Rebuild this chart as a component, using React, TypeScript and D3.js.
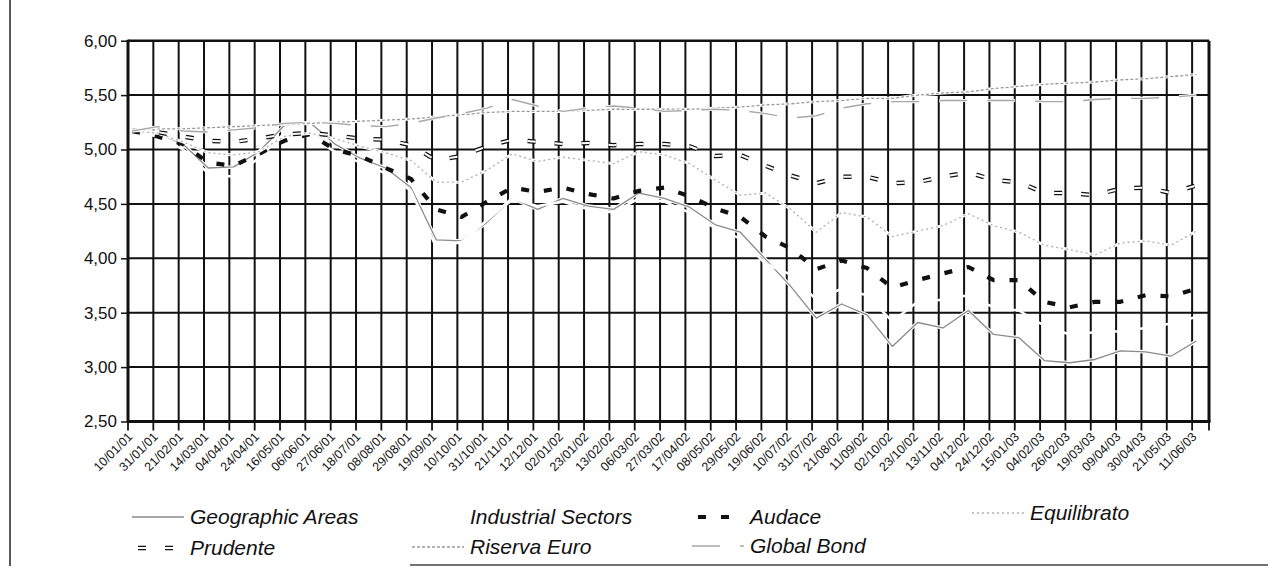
import React, { useEffect, useRef } from 'react';
import * as d3 from 'd3';

// dates printed under the x axis, one every 3 weekly values
const tickLabels = [
  '10/01/01', '31/01/01', '21/02/01', '14/03/01', '04/04/01', '24/04/01', '16/05/01', '06/06/01',
  '27/06/01', '18/07/01', '08/08/01', '29/08/01', '19/09/01', '10/10/01', '31/10/01', '21/11/01',
  '12/12/01', '02/01/02', '23/01/02', '13/02/02', '06/03/02', '27/03/02', '17/04/02', '08/05/02',
  '29/05/02', '19/06/02', '10/07/02', '31/07/02', '21/08/02', '11/09/02', '02/10/02', '23/10/02',
  '13/11/02', '04/12/02', '24/12/02', '15/01/03', '04/02/03', '26/02/03', '19/03/03', '09/04/03',
  '30/04/03', '21/05/03', '11/06/03'
];

// values read at each labelled date
const geographicAreas = [
  5.17, 5.15, 5.05, 4.83, 4.84, 4.98, 5.22, 5.25, 5.05, 4.92, 4.83, 4.65, 4.17, 4.16, 4.33,
  4.55, 4.45, 4.55, 4.48, 4.45, 4.60, 4.55, 4.47, 4.31, 4.24, 3.99, 3.74, 3.45, 3.58, 3.48,
  3.19, 3.41, 3.36, 3.52, 3.30, 3.27, 3.06, 3.04, 3.07, 3.15, 3.14, 3.10, 3.24
];
const industrialSectors = [
  5.17, 5.12, 5.00, 4.78, 4.75, 4.92, 5.15, 5.12, 4.98, 4.88, 4.78, 4.62, 4.10, 4.15, 4.35,
  4.55, 4.48, 4.52, 4.45, 4.42, 4.55, 4.52, 4.42, 4.28, 4.18, 3.95, 3.85, 3.62, 3.72, 3.66,
  3.42, 3.60, 3.62, 3.66, 3.55, 3.52, 3.38, 3.30, 3.32, 3.33, 3.36, 3.40, 3.46
];
const audace = [
  5.17, 5.12, 5.05, 4.88, 4.85, 4.96, 5.08, 5.14, 5.00, 4.94, 4.83, 4.73, 4.45, 4.38, 4.52,
  4.65, 4.61, 4.65, 4.59, 4.55, 4.62, 4.65, 4.57, 4.46, 4.38, 4.20, 4.09, 3.90, 3.98, 3.91,
  3.73, 3.80, 3.86, 3.92, 3.80, 3.80, 3.60, 3.55, 3.60, 3.60, 3.66, 3.65, 3.72
];
const equilibrato = [
  5.17, 5.15, 5.07, 4.97, 4.95, 4.98, 5.12, 5.15, 5.10, 5.03, 4.97, 4.90, 4.70, 4.70, 4.81,
  4.96, 4.89, 4.93, 4.90, 4.87, 4.98, 4.95, 4.87, 4.72, 4.58, 4.60, 4.45, 4.24, 4.42, 4.38,
  4.20, 4.25, 4.30, 4.41, 4.30, 4.24, 4.12, 4.08, 4.03, 4.14, 4.16, 4.12, 4.25
];
const prudente = [
  5.17, 5.16, 5.12, 5.08, 5.07, 5.10, 5.14, 5.15, 5.13, 5.10, 5.09, 5.04, 4.90, 4.94, 5.03,
  5.09, 5.07, 5.05, 5.06, 5.04, 5.05, 5.05, 5.03, 4.94, 4.95, 4.85, 4.76, 4.69, 4.75, 4.75,
  4.69, 4.70, 4.75, 4.79, 4.72, 4.70, 4.60, 4.60, 4.58, 4.64, 4.65, 4.60, 4.67
];
const riservaEuro = [
  5.17, 5.19, 5.19, 5.20, 5.21, 5.22, 5.23, 5.24, 5.25, 5.26, 5.27, 5.28, 5.30, 5.32, 5.34,
  5.35, 5.35, 5.35, 5.36, 5.37, 5.37, 5.37, 5.37, 5.38, 5.39, 5.41, 5.42, 5.44, 5.45, 5.47,
  5.47, 5.50, 5.52, 5.53, 5.56, 5.58, 5.60, 5.61, 5.62, 5.64, 5.65, 5.67, 5.69
];
const globalBond = [
  5.17, 5.21, 5.17, 5.16, 5.18, 5.20, 5.24, 5.25, 5.24, 5.22, 5.21, 5.24, 5.29, 5.33, 5.38,
  5.46, 5.40, 5.35, 5.38, 5.40, 5.38, 5.35, 5.36, 5.37, 5.36, 5.33, 5.29, 5.31, 5.38, 5.42,
  5.44, 5.44, 5.45, 5.45, 5.45, 5.45, 5.44, 5.44, 5.46, 5.47, 5.47, 5.48, 5.50
];

const yTicks = [2.5, 3, 3.5, 4, 4.5, 5, 5.5, 6];
const weeksPerTick = 3;
const weekCount = 128;

const width = 1268;
const height = 575;
const plot = { left: 128, right: 1209, top: 40.7, bottom: 421.5 };
const font = '"Liberation Sans", Arial, Helvetica, sans-serif';

type Style = {
  color: string; width: number; dash?: string; halo?: number; inner?: number;
};

const series: { name: string; values: number[]; style: Style; legend: { x: number; y: number } }[] = [
  { name: 'Geographic Areas', values: geographicAreas, style: { color: '#8a8a8a', width: 1.3, halo: 3.5 }, legend: { x: 190, y: 524 } },
  { name: 'Industrial Sectors', values: industrialSectors, style: { color: '#ffffff', width: 2.5 }, legend: { x: 470, y: 524 } },
  { name: 'Audace', values: audace, style: { color: '#111', width: 4.2, dash: '8 15' }, legend: { x: 750, y: 524 } },
  { name: 'Equilibrato', values: equilibrato, style: { color: '#b0b0b0', width: 1.3, dash: '2 3', halo: 3 }, legend: { x: 1030, y: 520 } },
  { name: 'Prudente', values: prudente, style: { color: '#111', width: 4.5, dash: '8 19', inner: 2 }, legend: { x: 190, y: 555 } },
  { name: 'Riserva Euro', values: riservaEuro, style: { color: '#9a9a9a', width: 1.3, dash: '3 2', halo: 3 }, legend: { x: 470, y: 554 } },
  { name: 'Global Bond', values: globalBond, style: { color: '#a8a8a8', width: 1.4, dash: '28 20', halo: 3 }, legend: { x: 750, y: 553 } },
];

function drawPath(g: d3.Selection<SVGGElement, unknown, null, undefined>, d: string, s: Style) {
  if (s.halo) {
    g.append('path').attr('d', d).attr('fill', 'none').attr('stroke', '#fff')
      .attr('stroke-width', s.halo).attr('stroke-dasharray', s.dash && s.dash.length > 4 ? s.dash : null);
  }
  g.append('path').attr('d', d).attr('fill', 'none').attr('stroke', s.color)
    .attr('stroke-width', s.width).attr('stroke-linejoin', 'round')
    .attr('stroke-dasharray', s.dash || null);
  if (s.inner) {
    g.append('path').attr('d', d).attr('fill', 'none').attr('stroke', '#fff')
      .attr('stroke-width', s.inner).attr('stroke-dasharray', s.dash || null);
  }
}

export default function App() {
  const ref = useRef<SVGSVGElement>(null);

  useEffect(() => {
    const svg = d3.select(ref.current);
    svg.selectAll('*').remove();

    svg.append('rect').attr('width', width).attr('height', height).attr('fill', '#fff');

    const weeks = d3.range(weekCount);
    const x = d3.scaleBand<number>().domain(weeks).range([plot.left, plot.right]);
    const bw = x.bandwidth();
    const y = d3.scaleLinear().domain([2.5, 6]).range([plot.bottom, plot.top]);
    const locale = d3.formatLocale({ decimal: ',', thousands: '.', grouping: [3], currency: ['', '€'] });
    const fmt = locale.format('.2f');

    // page frame of the scan
    svg.append('line').attr('x1', 10).attr('x2', 10).attr('y1', 0).attr('y2', 566)
      .attr('stroke', '#222').attr('stroke-width', 1.5);
    svg.append('line').attr('x1', 410).attr('x2', width).attr('y1', 565).attr('y2', 565)
      .attr('stroke', '#444').attr('stroke-width', 1.5);

    // grid
    const grid = svg.append('g').attr('stroke', '#111').attr('stroke-width', 2);
    grid.selectAll('line.h')
      .data(yTicks.filter(t => t > 2.5 && t < 6))
      .join('line')
      .attr('class', 'h')
      .attr('x1', plot.left).attr('x2', plot.right)
      .attr('y1', d => y(d)).attr('y2', d => y(d));
    grid.selectAll('line.v')
      .data(tickLabels.map((_, i) => i).filter(i => i > 0))
      .join('line')
      .attr('class', 'v')
      .attr('x1', i => x(i * weeksPerTick)!).attr('x2', i => x(i * weeksPerTick)!)
      .attr('y1', plot.top).attr('y2', plot.bottom);

    // series
    const lineGen = d3.line<number>()
      .x((_, i) => x(i * weeksPerTick)! + bw / 2)
      .y(d => y(d));
    const lines = svg.append('g');
    series.forEach(s => drawPath(lines, lineGen(s.values)!, s.style));

    // plot border
    const border = svg.append('g').attr('stroke', '#111');
    border.append('line').attr('x1', plot.left).attr('x2', plot.right).attr('y1', plot.top).attr('y2', plot.top).attr('stroke-width', 2.5);
    border.append('line').attr('x1', plot.right).attr('x2', plot.right).attr('y1', plot.top).attr('y2', plot.bottom).attr('stroke-width', 3);
    border.append('line').attr('x1', plot.left - 1).attr('x2', plot.right + 1.5).attr('y1', plot.bottom).attr('y2', plot.bottom).attr('stroke-width', 3);
    border.append('line').attr('x1', plot.left).attr('x2', plot.left).attr('y1', plot.top - 1).attr('y2', plot.bottom).attr('stroke-width', 3);

    // y axis
    svg.append('g')
      .attr('transform', `translate(${plot.left - 1},0)`)
      .call(d3.axisLeft(y).tickValues(yTicks).tickSize(6).tickPadding(4).tickFormat(d => fmt(d as number)))
      .call(g => g.select('.domain').remove())
      .call(g => g.selectAll('line').attr('stroke', '#111').attr('stroke-width', 1.5))
      .call(g => g.selectAll('text').attr('fill', '#111').style('font-family', font).style('font-size', '17px'));

    // x axis ticks and labels
    const xTicks = tickLabels.map((_, i) => x(i * weeksPerTick)!).concat([plot.right]);
    svg.append('g').selectAll('line')
      .data(xTicks)
      .join('line')
      .attr('x1', d => d).attr('x2', d => d)
      .attr('y1', plot.bottom).attr('y2', plot.bottom + 9)
      .attr('stroke', '#111').attr('stroke-width', 1.8);
    svg.append('g').selectAll('text')
      .data(tickLabels)
      .join('text')
      .attr('transform', (_, i) => `translate(${x(i * weeksPerTick)! + bw / 2 + 1},${plot.bottom + 16}) rotate(-45)`)
      .attr('text-anchor', 'end')
      .attr('fill', '#111')
      .style('font-family', font)
      .style('font-size', '12.5px')
      .text(d => d);

    // legend
    const legend = svg.append('g');
    series.forEach(s => {
      const sy = s.legend.y - 7;
      const x0 = s.legend.x - 58;
      const x1 = s.legend.x - 6;
      const d = `M${s.style.dash && s.style.width > 3 ? x0 + 6 : x0},${sy}L${x1},${sy}`;
      drawPath(legend, d, s.style);
      legend.append('text')
        .attr('x', s.legend.x).attr('y', s.legend.y)
        .attr('fill', '#111')
        .style('font-family', font)
        .style('font-size', '21px')
        .style('font-style', 'italic')
        .text(s.name);
    });
  }, []);

  return (
    <svg ref={ref} width={width} height={height}
      style={{ position: 'absolute', left: 0, top: 0, display: 'block' }} />
  );
}
